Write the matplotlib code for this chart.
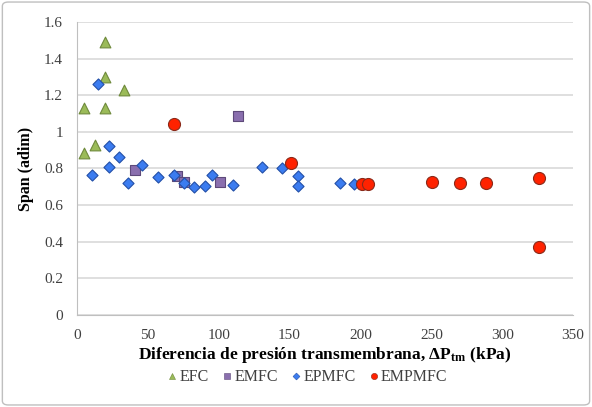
import matplotlib.pyplot as plt
from matplotlib.lines import Line2D
from matplotlib.patches import FancyBboxPatch
from matplotlib.ticker import FuncFormatter

plt.rcParams['font.family'] = ['Liberation Serif', 'DejaVu Serif']
plt.rcParams['mathtext.default'] = 'regular'

# datos
efc_x = [20, 20, 33, 5, 20, 13, 5]
efc_y = [1.49, 1.30, 1.23, 1.13, 1.13, 0.93, 0.885]

emfc_x = [41, 70.5, 75.5, 101, 113.5]
emfc_y = [0.79, 0.76, 0.728, 0.728, 1.087]

epmfc_x = [15, 22.7, 10.6, 22.6, 29.6, 35.9, 45.7, 57, 68.5, 75.5, 82.6, 90.3,
           95.4, 110, 130.3, 145, 155.7, 155.7, 185.6, 195.7]
epmfc_y = [1.26, 0.922, 0.765, 0.807, 0.862, 0.72, 0.818, 0.755, 0.765, 0.72,
           0.70, 0.705, 0.765, 0.712, 0.807, 0.80, 0.759, 0.706, 0.72, 0.714]

empmfc_x = [68.5, 150.8, 200.9, 205.6, 250.8, 270.3, 288.4, 326, 326]
empmfc_y = [1.043, 0.832, 0.714, 0.717, 0.726, 0.72, 0.72, 0.746, 0.373]

series = [
    ('EFC', efc_x, efc_y, '^', 60, '#9BBB59', '#6f8a3c'),
    ('EMFC', emfc_x, emfc_y, 's', 60, '#8A6FAE', '#5e4a7a'),
    ('EPMFC', epmfc_x, epmfc_y, 'D', 32, '#3B7CF0', '#2350a8'),
    ('EMPMFC', empmfc_x, empmfc_y, 'o', 75, '#FF2200', '#8a2a1a'),
]

fig = plt.figure(figsize=(5.92, 4.07), dpi=100)
ax = fig.add_axes([0.130, 0.226, 0.838, 0.720])

handles = []
for i, (name, xs, ys, mk, sz, fc, ec) in enumerate(series):
    ax.scatter(xs, ys, marker=mk, s=sz, color=fc, edgecolors=ec,
               linewidths=0.8, zorder=3 + i)
    handles.append(Line2D([], [], linestyle='none', marker=mk,
                          markersize=3.5 if mk == 'D' else 4.5,
                          markerfacecolor=fc, markeredgecolor=ec,
                          markeredgewidth=0.4, label=name))

ax.set_xlim(0, 350)
ax.set_ylim(0, 1.6)
ax.set_xticks(range(0, 351, 50))
ax.set_yticks([0, 0.2, 0.4, 0.6, 0.8, 1.0, 1.2, 1.4, 1.6])
ax.yaxis.set_major_formatter(FuncFormatter(lambda v, p: f'{v:g}'))
ax.grid(axis='y', color='#d9d9d9', linewidth=1.2)
ax.set_axisbelow(True)
for s in ['top', 'right']:
    ax.spines[s].set_visible(False)
for s in ['left', 'bottom']:
    ax.spines[s].set_color('#bfbfbf')
ax.tick_params(length=0, labelsize=11, colors='#404040')
ax.tick_params(axis='x', pad=10)
ax.tick_params(axis='y', pad=10)

ax.set_xlabel('Diferencia de presión transmembrana, ΔP$_{tm}$ (kPa)',
              fontsize=12.5, fontweight='bold', labelpad=2)
ax.set_ylabel('Span (adim)', fontsize=11.5, fontweight='bold', labelpad=7)

leg = fig.legend(handles=handles, loc='center', bbox_to_anchor=(0.52, 0.073),
                 ncol=4, frameon=False, fontsize=11.5, handlelength=0.5,
                 handletextpad=0.2, columnspacing=0.9)
for t in leg.get_texts():
    t.set_color('#404040')

fig.patches.append(FancyBboxPatch((0.004, 0.005), 0.992, 0.99,
                                  boxstyle='round,pad=0,rounding_size=0.01',
                                  transform=fig.transFigure, fill=False,
                                  edgecolor='#bfbfbf', linewidth=1))

fig.savefig('out.png', dpi=100)
